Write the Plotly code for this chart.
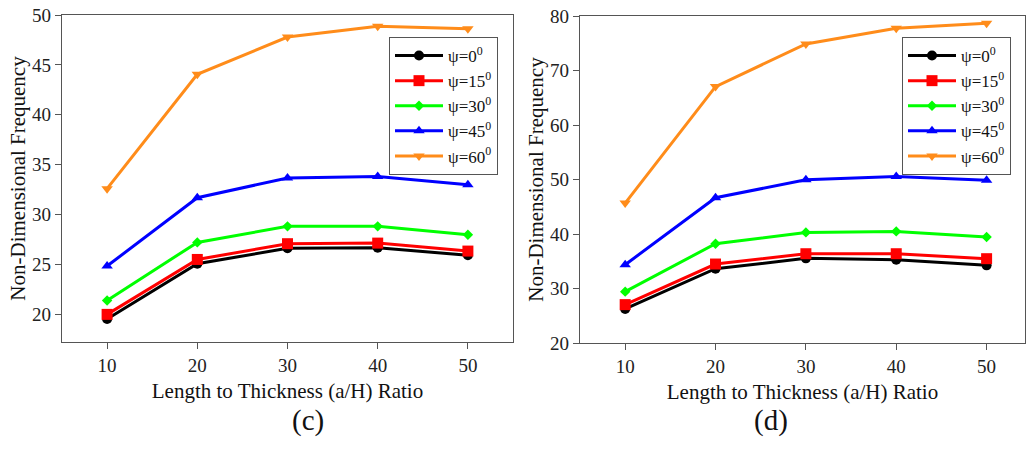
import plotly.graph_objects as go

ratios = [10, 20, 30, 40, 50]
series_names = ["ψ=0<sup>0</sup>", "ψ=15<sup>0</sup>", "ψ=30<sup>0</sup>", "ψ=45<sup>0</sup>", "ψ=60<sup>0</sup>"]

# Panel (c)
c_psi0 = [19.5, 25.05, 26.6, 26.65, 25.9]
c_psi15 = [19.97, 25.48, 27.06, 27.12, 26.32]
c_psi30 = [21.37, 27.19, 28.8, 28.8, 27.96]
c_psi45 = [24.82, 31.67, 33.65, 33.81, 32.98]
c_psi60 = [32.58, 44.05, 47.79, 48.86, 48.63]

# Panel (d)
d_psi0 = [26.24, 33.63, 35.53, 35.28, 34.25]
d_psi15 = [27.04, 34.49, 36.38, 36.38, 35.47]
d_psi30 = [29.42, 38.22, 40.29, 40.48, 39.44]
d_psi45 = [34.37, 46.65, 49.94, 50.56, 49.88]
d_psi60 = [45.67, 67.05, 74.87, 77.74, 78.66]

colors = ["#000000", "#ff0000", "#00ff00", "#0000ff", "#ff8c1a"]
symbols = ["circle", "square", "diamond", "triangle-up", "triangle-down"]
sizes = [10, 11, 8, 10, 10]

FONT = "Liberation Serif, Times New Roman, serif"

fig = go.Figure()
for i, ys in enumerate([c_psi0, c_psi15, c_psi30, c_psi45, c_psi60]):
    fig.add_trace(go.Scatter(x=ratios, y=ys, mode="lines+markers", name=series_names[i],
                             line=dict(color=colors[i], width=3),
                             marker=dict(symbol=symbols[i], size=sizes[i], color=colors[i]),
                             xaxis="x", yaxis="y", legend="legend"))
for i, ys in enumerate([d_psi0, d_psi15, d_psi30, d_psi45, d_psi60]):
    fig.add_trace(go.Scatter(x=ratios, y=ys, mode="lines+markers", name=series_names[i],
                             line=dict(color=colors[i], width=3),
                             marker=dict(symbol=symbols[i], size=sizes[i], color=colors[i]),
                             xaxis="x2", yaxis="y2", legend="legend2"))

W, H = 1026, 458
axcol = "#555555"
common_x = dict(range=[5, 55], tickvals=ratios, ticks="outside", ticklen=6, tickcolor=axcol,
                showline=True, linecolor=axcol, linewidth=1.2, mirror=True, showgrid=False, zeroline=False,
                automargin=False,
                tickfont=dict(family=FONT, size=19, color="#222"),
                title=dict(text="Length to Thickness (a/H) Ratio", font=dict(family=FONT, size=21, color="#111"), standoff=8))
common_y = dict(ticks="outside", ticklen=6, tickcolor=axcol, showline=True, linecolor=axcol, linewidth=1.2,
                mirror=True, showgrid=False, zeroline=False, automargin=False,
                tickfont=dict(family=FONT, size=19, color="#222"),
                title=dict(text="Non-Dimensional Frequency", font=dict(family=FONT, size=21, color="#111"), standoff=0))

legend_common = dict(font=dict(family=FONT, size=17, color="#111"), bgcolor="white",
                     bordercolor="#555555", borderwidth=1, xanchor="left", yanchor="top",
                     tracegroupgap=0, itemwidth=48)

fig.update_layout(
    width=W, height=H, margin=dict(l=0, r=0, t=0, b=0, autoexpand=False),
    paper_bgcolor="white", plot_bgcolor="white",
    xaxis=dict(common_x, domain=[62 / W, 513 / W], anchor="y"),
    yaxis=dict(common_y, domain=[1 - 342 / H, 1 - 15 / H], range=[17.2, 50], tickvals=[20, 25, 30, 35, 40, 45, 50], anchor="x"),
    xaxis2=dict(common_x, domain=[580 / W, 1025 / W], anchor="y2", range=[5, 54.25]),
    yaxis2=dict(common_y, domain=[1 - 343 / H, 1 - 16 / H], range=[20, 80], tickvals=[20, 30, 40, 50, 60, 70, 80], anchor="x2"),
    legend=dict(legend_common, x=389 / W, y=1 - 37 / H),
    legend2=dict(legend_common, x=902 / W, y=1 - 37 / H),
    annotations=[
        dict(text="(c)", x=290 / W, y=1 - 439 / H, xref="paper", yref="paper", showarrow=False,
             font=dict(family=FONT, size=29, color="#111")),
        dict(text="(d)", x=790 / W, y=1 - 439 / H, xref="paper", yref="paper", showarrow=False,
             font=dict(family=FONT, size=29, color="#111")),
    ],
)

fig.write_html("out.html", config={"displayModeBar": False},
               post_script="document.body.style.margin='0';document.body.style.padding='0';")
